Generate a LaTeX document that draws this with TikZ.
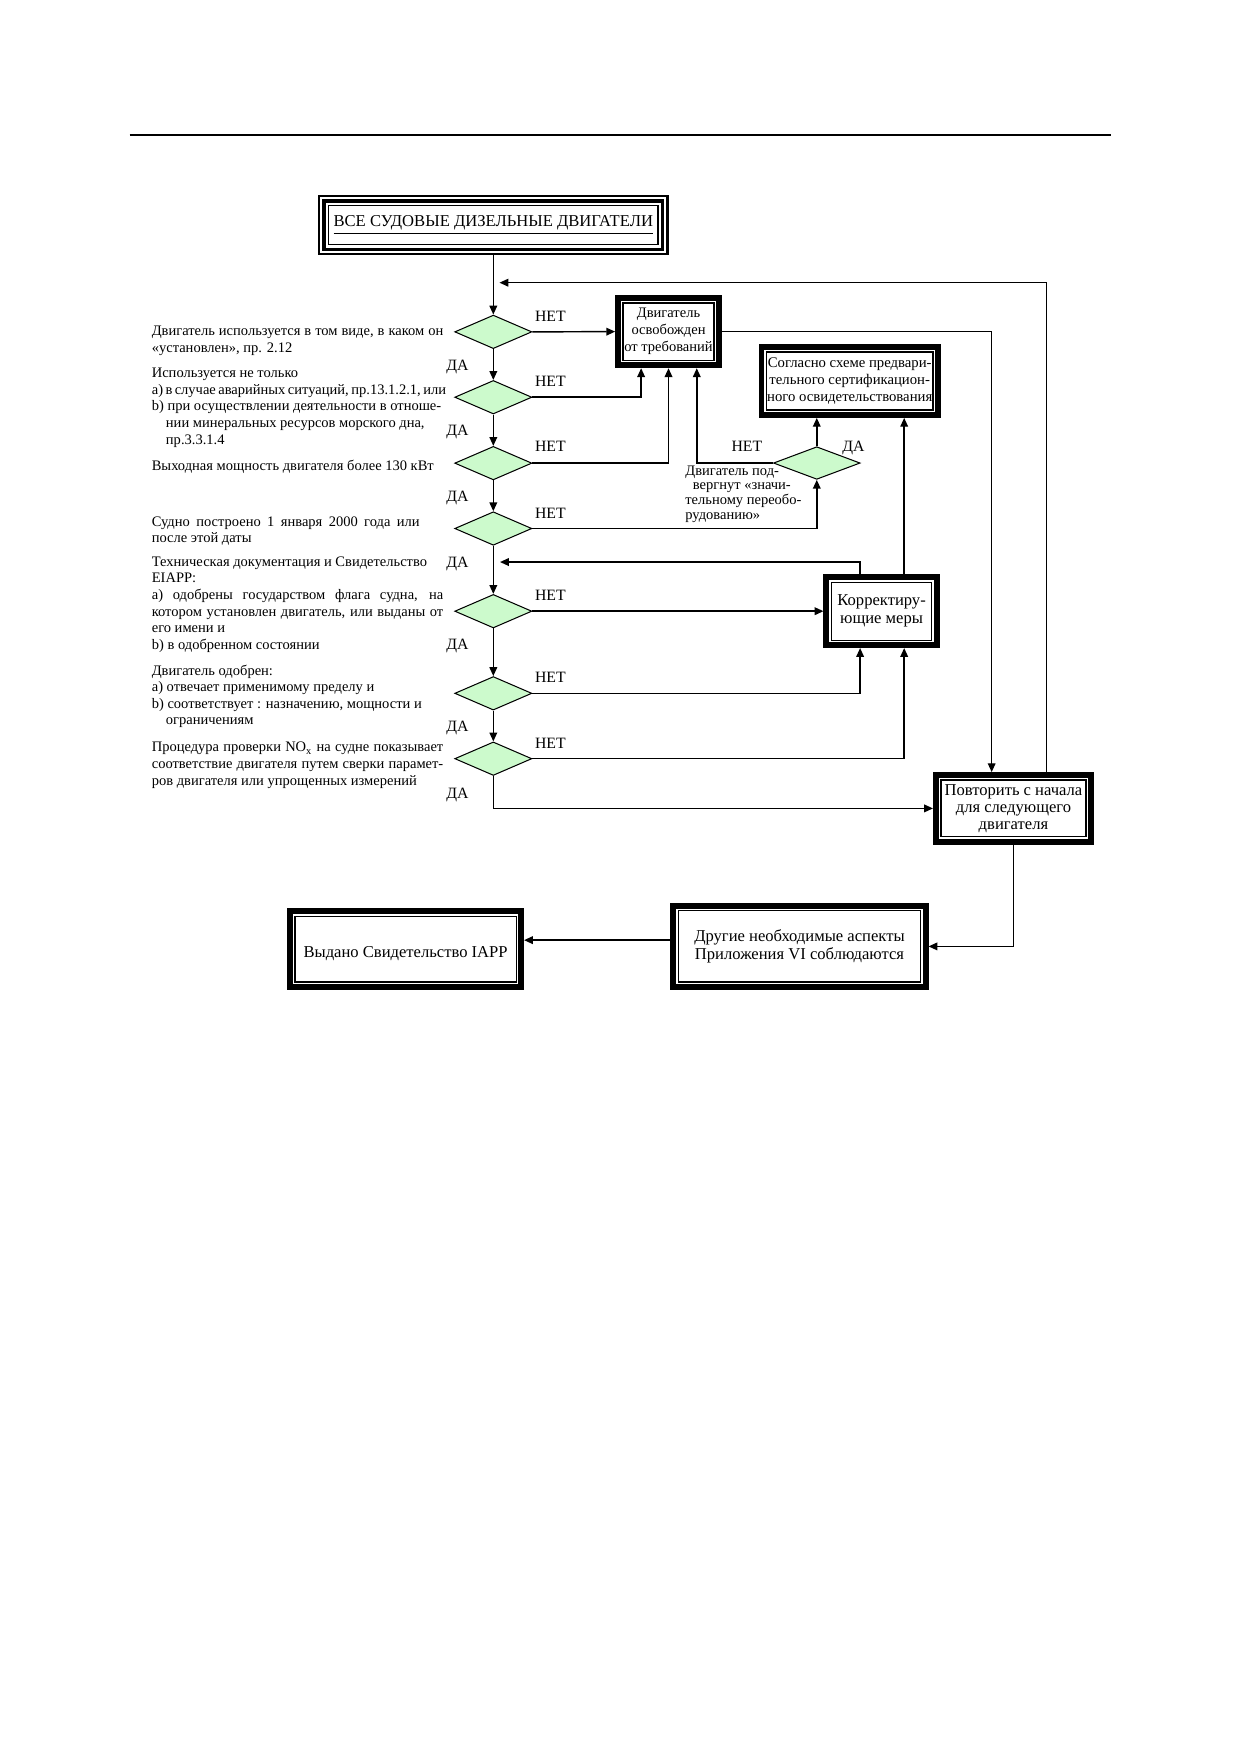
\documentclass[tikz,border=0pt]{standalone}
\usepackage{fontspec}
\setmainfont{Liberation Serif}
\usetikzlibrary{arrows.meta,shapes.geometric,calc}
\definecolor{dgreen}{RGB}{204,250,204}
\newcommand{\jline}[2][49.4mm]{\makebox[#1][s]{#2}}
\begin{document}
\begin{tikzpicture}[x=0.18936mm,y=-0.18936mm,
  conn/.style={line width=0.7pt,-{Triangle[length=1.5mm,width=1.3mm]}},
  dia/.style={diamond,draw,line width=0.5pt,fill=dgreen,inner sep=0pt,minimum width=13.07mm,minimum height=5.68mm},
  dbox/.style={rectangle,draw,line width=2.8pt,inner sep=0pt,align=center,
    path picture={\draw[line width=0.6pt]([shift={(2.4pt,2.4pt)}]path picture bounding box.south west) rectangle ([shift={(-2.4pt,-2.4pt)}]path picture bounding box.north east);}},
  tbox/.style={rectangle,draw,line width=1.1pt,inner sep=0pt,
    path picture={\draw[line width=1.6pt]([shift={(2.35pt,2.35pt)}]path picture bounding box.south west) rectangle ([shift={(-2.35pt,-2.35pt)}]path picture bounding box.north east);
    \draw[line width=0.7pt]([shift={(4.6pt,4.6pt)}]path picture bounding box.south west) rectangle ([shift={(-4.6pt,-4.6pt)}]path picture bounding box.north east);}},
  ltext/.style={anchor=base west,inner sep=0pt,align=left,font=\fontsize{7}{8}\selectfont},
  lab/.style={anchor=base,inner sep=0pt,font=\fontsize{7.6}{9}\selectfont}
]
\path[use as bounding box] (0,0) rectangle (1109,1568);
% header rule
\draw[line width=0.8pt] (116,121) -- (994,121);

% top box
\node[tbox,minimum width=59.08mm,minimum height=9.85mm,font=\fontsize{8}{9}\selectfont] (top) at (441.5,201.5) {\raisebox{0.8mm}{\underline{ВСЕ СУДОВЫЕ ДИЗЕЛЬНЫЕ ДВИГАТЕЛИ}}};

% main decision diamonds
\node[dia] (d1) at (441.5,297) {};
\node[dia] (d2) at (441.5,355.5) {};
\node[dia] (d3) at (441.5,414.5) {};
\node[dia] (d4) at (441.5,473) {};
\node[dia] (d5) at (441.5,547) {};
\node[dia] (d6) at (441.5,620.5) {};
\node[dia] (d7) at (441.5,679) {};
\node[dia,minimum width=14.69mm,minimum height=5.53mm] (dz) at (731,414.4) {};

% boxes
\node[dbox,minimum width=17.10mm,minimum height=11.42mm,font=\fontsize{7}{8.2}\selectfont] (free) at (598.3,296.8) {Двигатель\\освобожден\\от требований};
\node[dbox,minimum width=29.88mm,minimum height=11.51mm,font=\fontsize{7.1}{8}\selectfont] (sogl) at (760.5,341) {Согласно схеме предвари-\\тельного сертификацион-\\ного освидетельствования};
\node[dbox,minimum width=18.71mm,minimum height=11.51mm,font=\fontsize{8}{8.8}\selectfont] (korr) at (789,547) {Корректиру-\\ющие меры};
\node[dbox,minimum width=26.28mm,minimum height=11.32mm,font=\fontsize{8}{8.1}\selectfont] (povt) at (907,723.5) {Повторить с начала\\для следующего\\двигателя};
\node[dbox,minimum width=42.76mm,minimum height=13.79mm,font=\fontsize{8}{8.6}\selectfont] (drug) at (715.5,847) {Другие необходимые аспекты\\Приложения VI соблюдаются};
\node[dbox,minimum width=39.16mm,minimum height=12.84mm,font=\fontsize{8}{9}\selectfont] (vyd) at (363,849.5) {\rule{0pt}{3.5mm}Выдано Свидетельство IAPP};

% side text of the small diamond
\node[anchor=base west,inner sep=0pt,align=left,font=\fontsize{7}{7}\selectfont] (dztext) at (613,464.5) {Двигатель под-\\\hspace{1.27mm}вергнут «значи-\\тельному переобо-\\рудованию»};

% left condition texts (anchor = baseline of last line)
\node[ltext] (c1) at (135.5,315.5) {\jline{Двигатель используется в том виде, в каком он}\\«установлен», пр. 2.12};
\node[ltext] (c2) at (135.5,397.5) {Используется не только\\\jline{a) в случае аварийных ситуаций, пр.13.1.2.1, или}\\b) при осуществлении деятельности в отноше-\\\hspace{2.4mm}нии минеральных ресурсов морского дна,\\\hspace{2.4mm}пр.3.3.1.4};
\node[ltext] (c3) at (135.5,420.8) {Выходная мощность двигателя более 130 кВт};
\node[ltext] (c4) at (135.5,485.6) {\jline[45.4mm]{Судно построено 1 января 2000 года или}\\после этой даты};
\node[ltext] (c5) at (135.5,581) {Техническая документация и Свидетельство\\EIAPP:\\\jline{a) одобрены государством флага судна, на}\\\jline{котором установлен двигатель, или выданы от}\\его имени и\\b) в одобренном состоянии};
\node[ltext] (c6) at (135.5,648.7) {Двигатель одобрен:\\a) отвечает применимому пределу и\\b) соответствует : назначению, мощности и\\\hspace{2.4mm}ограничениям};
\node[ltext] (c7) at (135.5,702.7) {\jline{Процедура проверки NO\textsubscript{x} на судне показывает}\\\jline{соответствие двигателя путем сверки парамет-}\\ров двигателя или упрощенных измерений};

% labels
\foreach \yy [count=\i] in {283.4,341.6,399.8,458.9,532.6,606.3,665.3}
  \node[lab] (net\i) at (492.6,\yy+4.7) {НЕТ};
\foreach \yy [count=\i] in {326.7,384.9,444,502.8,576.5,650.4,709.5}
  \node[lab] (da\i) at (409.5,\yy+4.7) {ДА};
\node[lab] (netz) at (668.4,404.5) {НЕТ};
\node[lab] (daz) at (763.8,404.5) {ДА};

% helper coordinates
\coordinate (j1) at (447,253);
\coordinate (j2) at (447.5,503);
\coordinate (f1) at ([xshift=-4.64mm]free.south);
\coordinate (f3) at ([xshift=4.79mm]free.south);
\coordinate (k1) at ([xshift=-3.64mm]korr.north);
\coordinate (k2) at ([xshift=3.83mm]korr.north);
\coordinate (k3) at ([xshift=-3.64mm]korr.south);
\coordinate (k4) at ([xshift=3.83mm]korr.south);
\coordinate (p1) at ([xshift=-3.69mm]povt.north);
\coordinate (p2) at ([xshift=5.64mm]povt.north);
\coordinate (dw) at ([yshift=1.06mm]drug.west);

% connectors
\draw[conn] (top.south) -- (d1.north);
\draw[conn] (d1.south) -- (d2.north);
\draw[conn] (d2.south) -- (d3.north);
\draw[conn] (d3.south) -- (d4.north);
\draw[conn] (d4.south) -- (d5.north);
\draw[conn] (d5.south) -- (d6.north);
\draw[conn] (d6.south) -- (d7.north);
\draw[conn] (d1.east) -- (free.west);
\draw[conn] (d2.east) -| (f1);
\draw[conn] (d3.east) -| (free.south);
\draw[conn] (dz.west) -| (f3);
\draw[conn] (d4.east) -| (dz.south);
\draw[conn] (dz.north) -- (dz.north |- sogl.south);
\draw[conn] (k2) -- (k2 |- sogl.south);
\draw[conn] (k1) |- (j2);
\draw[conn] (d5.east) -- (korr.west);
\draw[conn] (d6.east) -| (k3);
\draw[conn] (d7.east) -| (k4);
\draw[conn] (d7.south) |- (povt.west);
\draw[conn] (free.east) -| (p1);
\draw[conn] (p2) |- (j1);
\draw[conn] (povt.south) |- (drug.east);
\draw[conn] (dw) -- (dw -| vyd.east);
\end{tikzpicture}
\end{document}
